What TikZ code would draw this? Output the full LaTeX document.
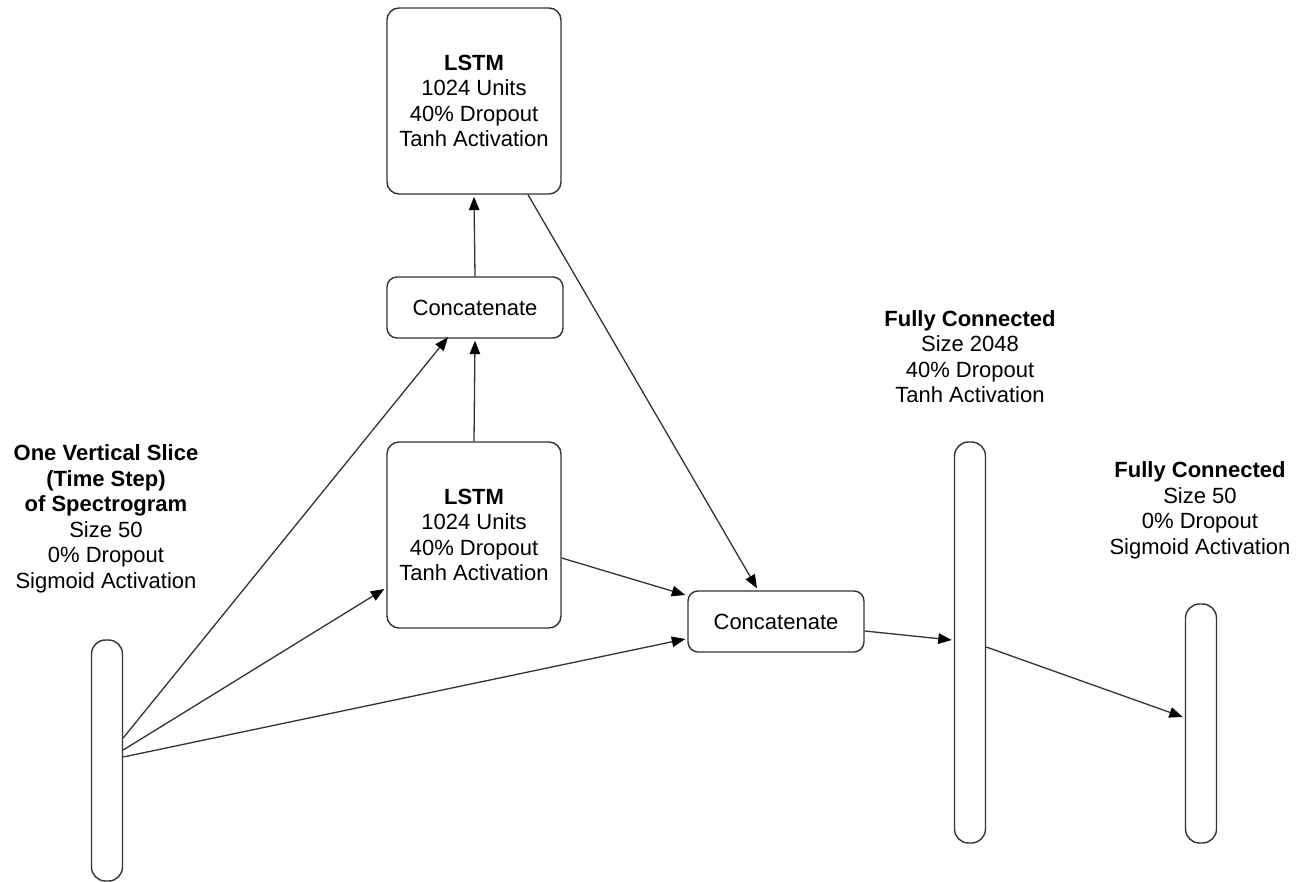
\documentclass[tikz,border=0pt]{standalone}
\usepackage{fontspec}
\setmainfont{Liberation Sans}
\usetikzlibrary{arrows.meta}
\definecolor{edge}{HTML}{333333}
\begin{document}
\begin{tikzpicture}[x=1pt,y=-1pt,
  txt/.style={font=\fontsize{22}{25.5}\selectfont, align=center, text=black},
  box/.style={draw=edge, line width=1.4pt, rounded corners=12pt, fill=white, inner sep=0pt,
    font=\fontsize{22}{25.5}\selectfont, align=center},
  bar/.style={draw=edge, line width=1.4pt, rounded corners=14pt, inner sep=0pt, minimum width=31pt},
  conn/.style={draw=edge, line width=1.3pt, -{Triangle[length=13.5pt,width=10.5pt,color=black]}}
]
\useasboundingbox (0,0) rectangle (1310,882);
% boxes
\node[box, minimum width=174pt, minimum height=186pt] (lt) at (474,101) {\textbf{LSTM}\\1024 Units\\40\% Dropout\\Tanh Activation};
\node[box, minimum width=176pt, minimum height=61pt, rounded corners=10pt] (ct) at (475,307.5) {Concatenate};
\node[box, minimum width=174pt, minimum height=186pt] (lb) at (474,535) {\textbf{LSTM}\\1024 Units\\40\% Dropout\\Tanh Activation};
\node[box, minimum width=176pt, minimum height=61pt, rounded corners=10pt] (cm) at (776,621.5) {Concatenate};
% bars
\node[bar, minimum height=241pt] (in) at (107,760.5) {};
\node[bar, minimum height=401pt] (fc1) at (970,642.5) {};
\node[bar, minimum height=239pt] (fc2) at (1201,723.5) {};
% labels
\node[txt] (lin) at (106,519) {\textbf{One Vertical Slice}\\\textbf{(Time Step)}\\\textbf{of Spectrogram}\\Size 50\\0\% Dropout\\Sigmoid Activation};
\node[txt] (lfc1) at (970,356.5) {\textbf{Fully Connected}\\Size 2048\\40\% Dropout\\Tanh Activation};
\node[txt] (lfc2) at (1200,510.5) {\textbf{Fully Connected}\\Size 50\\0\% Dropout\\Sigmoid Activation};
% connectors
\draw[conn] ([yshift=22.5pt]in.east) -- ([xshift=-27pt,yshift=1.5pt]ct.south);
\draw[conn] ([yshift=10.5pt]in.east) -- ([xshift=-2pt,yshift=-54pt]lb.west);
\draw[conn] ([yshift=3.5pt]in.east) -- ([xshift=-2pt,yshift=-17.5pt]cm.west);
\draw[conn] (lb.north) -- ([yshift=-2pt]ct.south);
\draw[conn] (ct.north) -- ([yshift=-2pt]lt.south);
\draw[conn] ([xshift=54pt]lt.south) -- ([xshift=-19pt,yshift=2pt]cm.north);
\draw[conn] ([yshift=-23pt]lb.east) -- ([xshift=-2pt,yshift=26.5pt]cm.west);
\draw[conn] ([yshift=-9.5pt]cm.east) -- ([xshift=-2pt,yshift=2.5pt]fc1.west);
\draw[conn] ([yshift=-4.5pt]fc1.east) -- ([xshift=-2pt,yshift=6.5pt]fc2.west);
\end{tikzpicture}
\end{document}
